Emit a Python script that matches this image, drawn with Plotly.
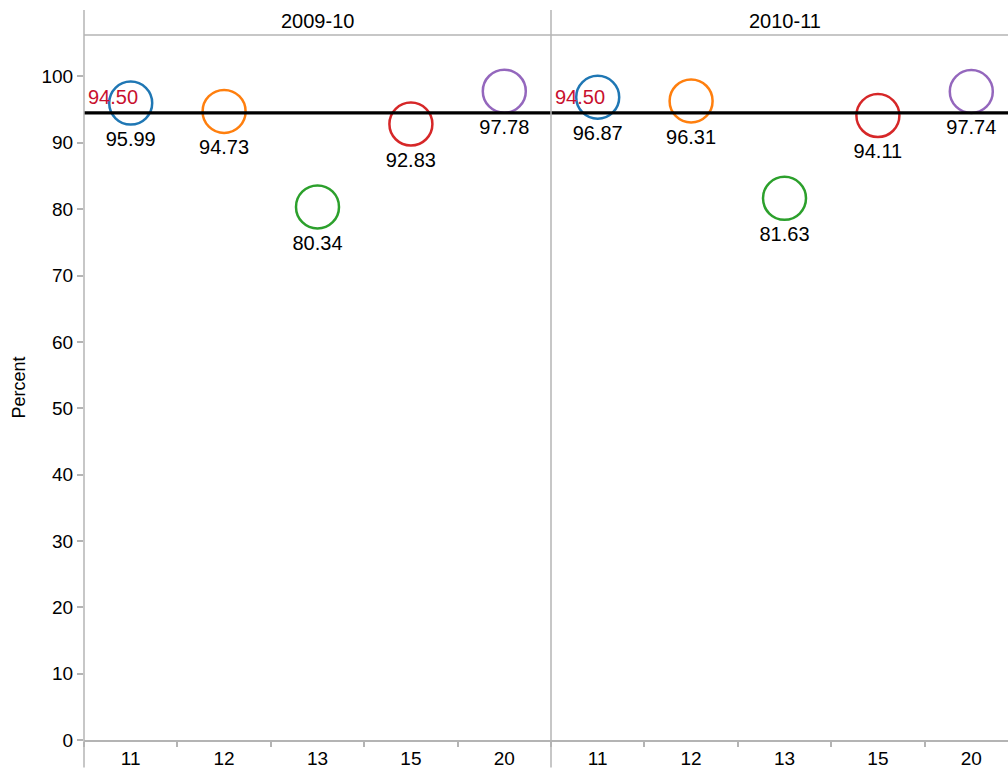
import plotly.graph_objects as go
from plotly.subplots import make_subplots

years = ["2009-10", "2010-11"]
grades = ["11", "12", "13", "15", "20"]
values = {
    "2009-10": [95.99, 94.73, 80.34, 92.83, 97.78],
    "2010-11": [96.87, 96.31, 81.63, 94.11, 97.74],
}
threshold = 94.50
colors = ["#1f77b4", "#ff7f0e", "#2ca02c", "#d62728", "#9467bd"]

FONT = "Liberation Sans, Arial, sans-serif"
W, H = 1008, 768
ML, MT, MB = 84, 35, 27.5
plot_w = W - ML
plot_h = H - MT - MB
split = 467 / plot_w
cat_px = 467 / 5
grid = "#b4b4b4"

fig = make_subplots(rows=1, cols=2, shared_yaxes=True, horizontal_spacing=0)

for i, yr in enumerate(years):
    col = i + 1
    fig.add_trace(
        go.Scatter(
            x=grades,
            y=values[yr],
            mode="markers+text",
            text=[f"{v:.2f}" for v in values[yr]],
            textposition="bottom center",
            textfont=dict(size=20, color="black", family=FONT),
            marker=dict(size=43, color="rgba(0,0,0,0)",
                        line=dict(width=2.5, color=colors)),
            showlegend=False,
            cliponaxis=False,
            hoverinfo="skip",
        ),
        row=1, col=col,
    )
    xref = "x" if col == 1 else "x2"
    yref = "y" if col == 1 else "y2"
    fig.add_shape(type="line", xref=f"{xref} domain", yref=yref,
                  x0=0, x1=1, y0=threshold, y1=threshold,
                  line=dict(color="black", width=3.2), layer="above")
    fig.add_annotation(xref=f"{xref} domain", yref=yref, x=0, y=threshold,
                       text=f"{threshold:.2f}", showarrow=False,
                       xanchor="left", yanchor="bottom", xshift=2, yshift=3,
                       font=dict(size=20, color="#c8102e", family=FONT))

fig.update_xaxes(type="category", categoryorder="array", categoryarray=grades,
                 showgrid=False, zeroline=False, showline=True, linecolor=grid,
                 linewidth=1.5, ticks="outside", tickson="boundaries",
                 ticklen=5, tickcolor=grid, tickwidth=1.5,
                 tickfont=dict(size=19, color="black", family=FONT))
fig.update_xaxes(domain=[0, split], range=[-0.5, 4.5], row=1, col=1)
fig.update_xaxes(domain=[split, 1], range=[-0.5, -0.5 + (W - ML - 467) / cat_px],
                 row=1, col=2)

fig.update_yaxes(range=[0, plot_h / 6.64], showgrid=False, zeroline=False,
                 showline=False, tickvals=list(range(0, 101, 10)),
                 tickfont=dict(size=19, color="black", family=FONT))
fig.update_yaxes(ticks="outside", ticklen=6, tickcolor=grid, tickwidth=1.5,
                 title=dict(text="Percent", font=dict(size=18, color="black", family=FONT),
                            standoff=11),
                 row=1, col=1)

# facet separators and header line
top_paper = 1 + (MT - 10) / plot_h
bot_paper = -MB / plot_h
for xp in [0, split]:
    fig.add_shape(type="line", xref="paper", yref="paper", x0=xp, x1=xp,
                  y0=bot_paper, y1=top_paper, line=dict(color=grid, width=1.5))
fig.add_shape(type="line", xref="paper", yref="paper", x0=0, x1=1,
              y0=1, y1=1, line=dict(color=grid, width=1.5))

for i, yr in enumerate(years):
    xc = (split / 2) if i == 0 else (split + (467 / plot_w) / 2)
    fig.add_annotation(xref="paper", yref="paper", x=xc, y=1 + (MT - 21) / plot_h,
                       text=yr, showarrow=False, xanchor="center", yanchor="middle",
                       font=dict(size=20, color="black", family=FONT))

fig.update_layout(
    width=W, height=H,
    margin=dict(l=ML, r=0, t=MT, b=MB, autoexpand=False),
    plot_bgcolor="white", paper_bgcolor="white",
    font=dict(family=FONT, color="black"),
    hovermode=False,
)

fig.write_html(
    "out.html",
    config={"displayModeBar": False},
    post_script="document.body.style.margin='0';document.body.style.overflow='hidden';",
)
